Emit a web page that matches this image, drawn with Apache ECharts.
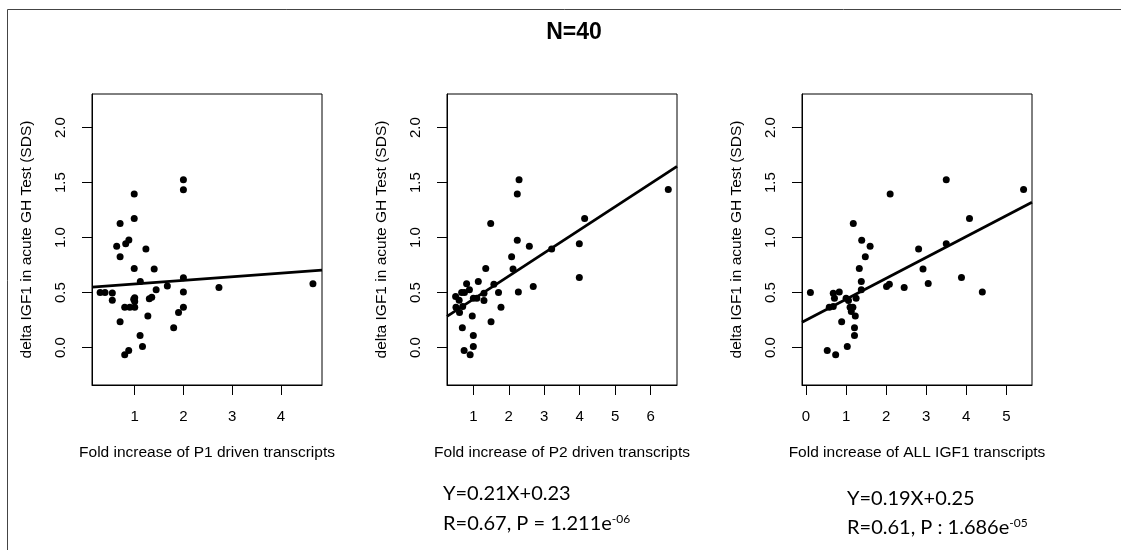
<!DOCTYPE html>
<html><head><meta charset="utf-8">
<script src="https://cdn.jsdelivr.net/npm/echarts@6/dist/echarts.min.js"></script>
<style>html,body{margin:0;padding:0;background:#fff}#c{width:1121px;height:550px}</style>
</head><body><div id="c"></div>
<script>
// ---- data ----
const p1X = [2.0,2.0,0.99,0.99,0.70,0.88,0.815,0.63,1.23,0.70,0.99,1.40,1.115,2.0,1.67,1.44,1.35,1.30,2.0,2.73,4.66,0.29,0.39,0.54,0.54,1.0,1.0,1.0,0.90,0.795,0.70,1.27,2.0,1.90,1.80,1.11,1.16,0.795,0.877,0.98];
const p1Y = [1.525,1.434,1.395,1.173,1.127,0.979,0.943,0.922,0.897,0.825,0.718,0.715,0.60,0.634,0.56,0.525,0.458,0.443,0.506,0.547,0.58,0.50,0.50,0.497,0.43,0.452,0.42,0.367,0.367,0.367,0.236,0.288,0.367,0.32,0.18,0.11,0.01,-0.064,-0.027,0.44];
const p2X = [2.29,2.24,6.50,1.49,4.14,2.24,2.58,3.21,3.99,2.08,2.12,1.35,3.99,2.69,2.27,1.58,1.71,1.14,0.81,0.89,0.67,0.50,1.0,1.1,1.30,1.30,0.51,0.61,0.70,0.97,1.78,0.69,1.50,1.0,1.0,0.74,0.91,0.75,0.60];
const p2Y = [1.525,1.395,1.436,1.127,1.173,0.976,0.922,0.897,0.943,0.825,0.715,0.718,0.636,0.555,0.506,0.575,0.50,0.60,0.58,0.525,0.50,0.464,0.449,0.449,0.494,0.427,0.367,0.318,0.373,0.288,0.367,0.18,0.236,0.109,0.009,-0.027,-0.064,0.50,0.43];
const p3X = [3.50,5.43,2.10,1.18,4.08,1.39,1.60,2.81,3.50,1.48,1.33,2.92,3.88,1.38,3.05,2.01,2.08,2.45,4.40,1.38,0.11,0.68,0.83,0.71,1.0,1.06,1.25,0.58,0.68,1.10,1.17,1.13,1.23,0.89,1.21,1.21,1.03,0.53,0.74];
const p3Y = [1.525,1.436,1.395,1.127,1.173,0.976,0.922,0.897,0.945,0.825,0.718,0.715,0.636,0.60,0.582,0.555,0.575,0.547,0.506,0.525,0.50,0.494,0.505,0.449,0.449,0.427,0.449,0.367,0.373,0.367,0.367,0.327,0.288,0.236,0.18,0.109,0.009,-0.027,-0.064];

const fitSlope = [0.033, 0.21, 0.19];
const fitIntercept = [0.545, 0.23, 0.25];

const xTicks = [[1,2,3,4],[1,2,3,4,5,6],[0,1,2,3,4,5]];
const xRanges = [[0.123,4.846],[0.257,6.746],[-0.10,5.64]];
const yTicks = [0,0.5,1,1.5,2];
const yRange = [-0.34,2.305];

const xTitles = ['Fold increase of P1 driven transcripts','Fold increase of P2 driven transcripts','Fold increase of ALL IGF1 transcripts'];
const yTitle = 'delta IGF1 in acute GH Test (SDS)';
const mainTitle = 'N=40';
const eqTexts = ['Y=0.21X+0.23','Y=0.19X+0.25'];
const statTexts = ['R=0.67, P = 1.211e','R=0.61, P : 1.686e'];
const statExp = ['-06','-05'];

// ---- chart ----
const chart = echarts.init(document.getElementById('c'), null, {renderer:'canvas'});
const FONT = 'Liberation Sans, Arial, sans-serif';
const gridLefts = [92, 447, 802];
const grids = gridLefts.map(l => ({left:l, top:94, width:230, height:291, show:true, borderColor:'#000', borderWidth:1, backgroundColor:'transparent'}));
const xs = [p1X,p2X,p3X], ys=[p1Y,p2Y,p3Y];

const xAxis = [0,1,2].map(i => ({
  type:'value', gridIndex:i, min:xRanges[i][0], max:xRanges[i][1],
  axisLine:{show:true, onZero:false, lineStyle:{color:'#000', width:1}},
  axisTick:{show:true, length:10, lineStyle:{color:'#000', width:1}, customValues:xTicks[i]},
  axisLabel:{show:true, color:'#000', fontSize:15, fontFamily:FONT, margin:24, customValues:xTicks[i]},
  splitLine:{show:false},
  name:xTitles[i], nameLocation:'middle', nameGap:60,
  nameTextStyle:{color:'#000', fontSize:15.5, fontFamily:FONT}
}));
const yAxis = [0,1,2].map(i => ({
  type:'value', gridIndex:i, min:yRange[0], max:yRange[1],
  axisLine:{show:true, onZero:false, lineStyle:{color:'#000', width:1}},
  axisTick:{show:true, length:10, lineStyle:{color:'#000', width:1}, customValues:yTicks},
  axisLabel:{show:true, color:'#000', fontSize:15, fontFamily:FONT, rotate:90, margin:24, customValues:yTicks,
    formatter: v => v.toFixed(1)},
  splitLine:{show:false},
  name:yTitle, nameLocation:'middle', nameGap:57,
  nameTextStyle:{color:'#000', fontSize:15.5, fontFamily:FONT}
}));

const series = [];
[0,1,2].forEach(i => {
  series.push({type:'scatter', xAxisIndex:i, yAxisIndex:i, symbol:'circle', symbolSize:7,
    itemStyle:{color:'#000', opacity:1}, silent:true, animation:false,
    data: xs[i].map((x,k)=>[x, ys[i][k]])});
  const a = xRanges[i][0], b = xRanges[i][1];
  series.push({type:'line', xAxisIndex:i, yAxisIndex:i, symbol:'none', silent:true, animation:false,
    lineStyle:{color:'#000', width:2.8},
    data:[[a, fitSlope[i]*a+fitIntercept[i]],[b, fitSlope[i]*b+fitIntercept[i]]]});
});

const annFont = '20px Lato, "Open Sans", sans-serif';
const annRich = {base:{font:annFont, fill:'#000'}, sup:{font:'12px Lato, "Open Sans", sans-serif', fill:'#000', padding:[0,0,10,0]}};
const annPos = [[443, 494, 524],[847, 499, 528]];
const graphics = [
  {type:'rect', shape:{x:7.5, y:9.5, width:1300, height:700}, style:{fill:'none', stroke:'#444', lineWidth:1}, silent:true, z:-1},
  {type:'text', x:574, y:33, style:{text:mainTitle, font:'bold 23px Liberation Sans, Arial, sans-serif', fill:'#000', textAlign:'center', textVerticalAlign:'middle'}, silent:true}
];
[0,1].forEach(i => {
  graphics.push({type:'text', x:annPos[i][0], y:annPos[i][1], style:{text:eqTexts[i], font:annFont, fill:'#000', textAlign:'left', textVerticalAlign:'middle'}, silent:true});
  graphics.push({type:'text', x:annPos[i][0], y:annPos[i][2], style:{text:'{base|'+statTexts[i]+'}{sup|'+statExp[i]+'}', rich:annRich, font:annFont, fill:'#000', textAlign:'left', textVerticalAlign:'middle'}, silent:true});
});

chart.setOption({
  animation:false,
  grid:grids, xAxis, yAxis, series,
  graphic:graphics
});
</script></body></html>
